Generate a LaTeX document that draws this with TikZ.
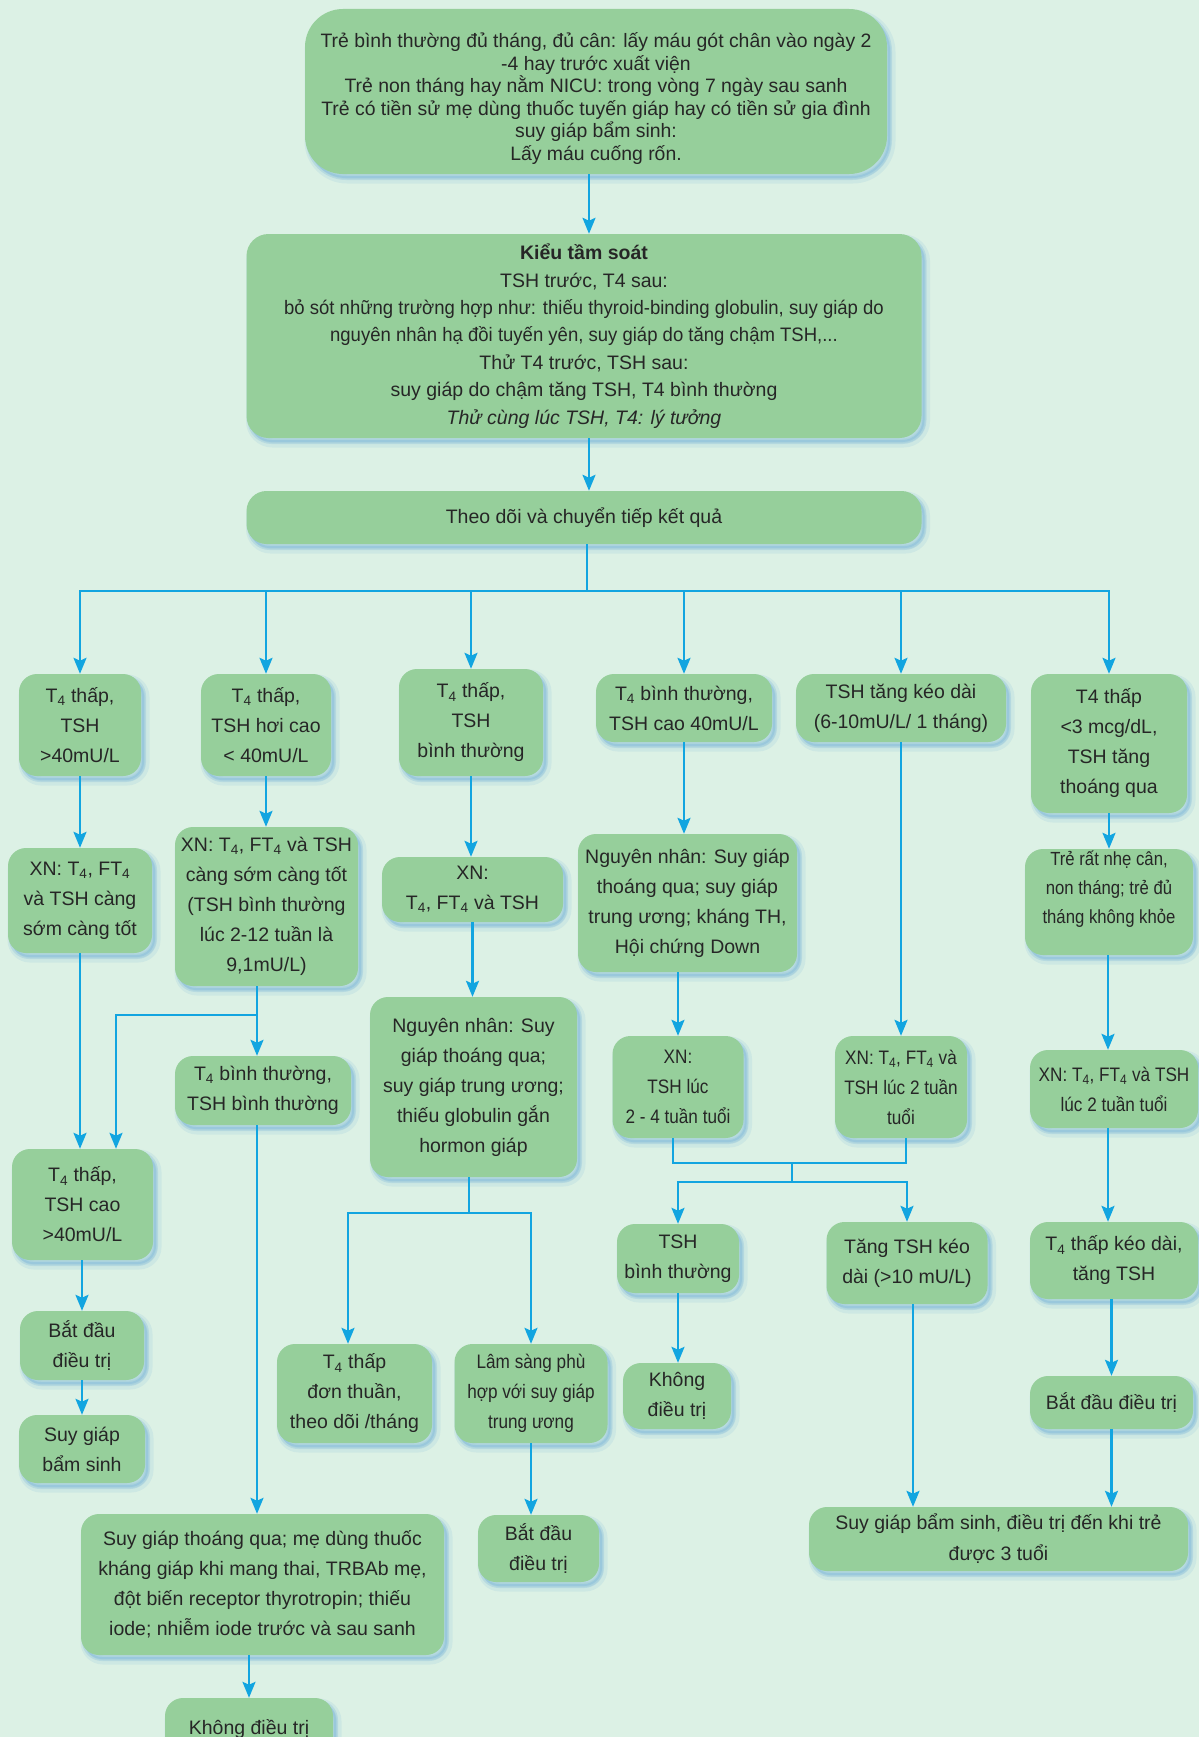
\documentclass[tikz,border=0pt]{standalone}
\usepackage{fontspec}
\setmainfont{Liberation Sans}
\newfontfamily\condf{Liberation Sans}[FakeStretch=0.88]
\newfontfamily\semicondf{Liberation Sans}[FakeStretch=0.95]
\usetikzlibrary{arrows.meta}
\definecolor{bgc}{HTML}{DCF1E5}
\definecolor{boxg}{HTML}{96CF9B}
\definecolor{arrc}{HTML}{12A5E0}
\definecolor{shc}{HTML}{4F9BD3}
\definecolor{txt}{HTML}{262626}
\tikzset{
 shad/.style={preaction={fill=shc,opacity=0.10,draw=shc,line width=9pt,transform canvas={shift={(4pt,-5pt)}}},
              preaction={fill=shc,opacity=0.18,draw=shc,line width=4pt,transform canvas={shift={(3pt,-4pt)}}}},
 box/.style={shad,fill=boxg,rounded corners=18pt,align=center,inner sep=0pt,text=txt,font=\fontsize{19.5}{30}\selectfont},
 arr/.style={draw=arrc,line width=2.5pt,-{Stealth[length=16pt,width=13pt,inset=3pt]}},
 ln/.style={draw=arrc,line width=2.5pt},
}
\newcommand{\Tf}{T\textsubscript{4}}
\newcommand{\FTf}{FT\textsubscript{4}}
\begin{document}
\begin{tikzpicture}[x=1pt,y=-1pt]
\useasboundingbox (0,0) rectangle (1199,1737);
\clip (0,0) rectangle (1199,1737);
\fill[bgc] (0,0) rectangle (1199,1737);

% top
\node[box, rounded corners=38pt, minimum width=582pt, minimum height=165pt, font=\fontsize{19.4}{22.5}\selectfont] (top) at (596,91.5)
 {\rule{0pt}{29pt}Trẻ bình thường đủ tháng, đủ cân: lấy máu gót chân vào ngày 2\\ -4 hay trước xuất viện\\ Trẻ non tháng hay nằm NICU: trong vòng 7 ngày sau sanh\\ Trẻ có tiền sử mẹ dùng thuốc tuyến giáp hay có tiền sử gia đình\\ suy giáp bẩm sinh:\\ Lấy máu cuống rốn.};
\node[box, rounded corners=22pt, minimum width=675pt, minimum height=204pt, font=\fontsize{19.5}{27.4}\selectfont] (kieu) at (584,336)
 {\textbf{Kiểu tầm soát}\\ TSH trước, T4 sau:\\ {\semicondf bỏ sót những trường hợp như: thiếu thyroid-binding globulin, suy giáp do}\\ {\semicondf nguyên nhân hạ đồi tuyến yên, suy giáp do tăng chậm TSH,...}\\ Thử T4 trước, TSH sau:\\ suy giáp do chậm tăng TSH, T4 bình thường\\ \textit{Thử cùng lúc TSH, T4: lý tưởng}};
\node[box, rounded corners=20pt, minimum width=675pt, minimum height=53pt] (theo) at (584,517.5) {Theo dõi và chuyển tiếp kết quả};

% row 1
\node[box, minimum width=122pt, minimum height=102pt] (a) at (80,725) {\Tf{} thấp,\\ TSH\\ >40mU/L};
\node[box, minimum width=130pt, minimum height=102pt] (b) at (266,725) {\Tf{} thấp,\\ TSH hơi cao\\ < 40mU/L};
\node[box, minimum width=144pt, minimum height=107pt] (c) at (471,722.5) {\Tf{} thấp,\\ TSH\\ bình thường};
\node[box, minimum width=176pt, minimum height=68pt] (d) at (684,708) {\Tf{} bình thường,\\ TSH cao 40mU/L};
\node[box, minimum width=210pt, minimum height=68pt] (e) at (901,708) {TSH tăng kéo dài\\ (6-10mU/L/ 1 tháng)};
\node[box, minimum width=156pt, minimum height=139pt] (f) at (1109,743.5) {T4 thấp\\ <3 mcg/dL,\\ TSH tăng\\ thoáng qua};

% row 2
\node[box, minimum width=144pt, minimum height=105pt] (a2) at (80,900.5) {XN: \Tf, \FTf\\ và TSH càng\\ sớm càng tốt};
\node[box, minimum width=183pt, minimum height=159pt] (b2) at (266.5,906.5) {XN: \Tf, \FTf{} và TSH\\ càng sớm càng tốt\\ (TSH bình thường\\ lúc 2-12 tuần là\\ 9,1mU/L)};
\node[box, minimum width=181pt, minimum height=65pt] (c2) at (472.5,889.5) {XN:\\ \Tf, \FTf{} và TSH};
\node[box, minimum width=219pt, minimum height=138pt] (d2) at (687.5,903) {Nguyên nhân: Suy giáp\\ thoáng qua; suy giáp\\ trung ương; kháng TH,\\ Hội chứng Down};
\node[box, minimum width=168pt, minimum height=106pt, font=\condf\fontsize{19}{29}\selectfont] (f2) at (1109,902) {Trẻ rất nhẹ cân,\\ non tháng; trẻ đủ\\ tháng không khỏe\\ ~};

% row 3
\node[box, minimum width=207pt, minimum height=180pt] (c3) at (473.5,1087) {Nguyên nhân: Suy\\ giáp thoáng qua;\\ suy giáp trung ương;\\ thiếu globulin gắn\\ hormon giáp};
\node[box, minimum width=176pt, minimum height=69pt] (b3) at (263,1090.5) {\Tf{} bình thường,\\ TSH bình thường};
\node[box, minimum width=141pt, minimum height=111pt] (a3) at (82.5,1204.5) {\Tf{} thấp,\\ TSH cao\\ >40mU/L};
\node[box, minimum width=131pt, minimum height=102pt, font=\condf\fontsize{19.5}{30}\selectfont] (d3) at (678,1087) {XN:\\ TSH lúc\\ 2 - 4 tuần tuổi};
\node[box, minimum width=132pt, minimum height=102pt, font=\condf\fontsize{19.5}{30}\selectfont] (e3) at (901,1087) {XN: \Tf, \FTf{} và\\ TSH lúc 2 tuần\\ tuổi};
\node[box, minimum width=168pt, minimum height=78pt, font=\condf\fontsize{19.5}{30}\selectfont] (f3) at (1114,1089) {XN: \Tf, \FTf{} và TSH\\ lúc 2 tuần tuổi};

% row 4
\node[box, minimum width=124pt, minimum height=69pt] (a4) at (82,1345.5) {Bắt đầu\\ điều trị};
\node[box, minimum width=155pt, minimum height=99pt] (c4a) at (354.5,1393.5) {\Tf{} thấp\\ đơn thuần,\\ theo dõi /tháng};
\node[box, minimum width=153pt, minimum height=99pt, font=\condf\fontsize{19.5}{30}\selectfont] (c4b) at (531,1393.5) {Lâm sàng phù\\ hợp với suy giáp\\ trung ương};
\node[box, minimum width=122pt, minimum height=69pt] (d4) at (678,1258.5) {TSH\\ bình thường};
\node[box, minimum width=161pt, minimum height=82pt] (e4) at (907,1263) {Tăng TSH kéo\\ dài (>10 mU/L)};
\node[box, minimum width=168pt, minimum height=77pt] (f4) at (1114,1260.5) {\Tf{} thấp kéo dài,\\ tăng TSH};

% row 5
\node[box, minimum width=126pt, minimum height=68pt] (a5) at (82,1449) {Suy giáp\\ bẩm sinh};
\node[box, minimum width=108pt, minimum height=66pt] (d5) at (677,1396) {Không\\ điều trị};
\node[box, minimum width=163pt, minimum height=53pt] (f5) at (1111.5,1402.5) {Bắt đầu điều trị};
\node[box, minimum width=121pt, minimum height=67pt] (c5b) at (538.5,1548.5) {Bắt đầu\\ điều trị};
\node[box, minimum width=363pt, minimum height=141pt] (b5) at (262.5,1584.5) {Suy giáp thoáng qua; mẹ dùng thuốc\\ kháng giáp khi mang thai, TRBAb mẹ,\\ đột biến receptor thyrotropin; thiếu\\ iode; nhiễm iode trước và sau sanh};
\node[box, minimum width=168pt, minimum height=62pt] (b6) at (249,1729) {Không điều trị};
\node[box, minimum width=379pt, minimum height=64pt, font=\fontsize{19.5}{31}\selectfont] (fin) at (998.5,1539) {Suy giáp bẩm sinh, điều trị đến khi trẻ\\ được 3 tuổi};

% connectors
\coordinate (ax) at (589,0);
\draw[arr] (top.south -| ax) -- (kieu.north -| ax);
\draw[arr] (kieu.south -| ax) -- (theo.north -| ax);
\coordinate (bus) at (587,591);
\draw[ln] (theo.south -| bus) -- (bus);
\draw[arr] (bus) -| (a.north);
\draw[arr] (bus) -| (f.north);
\foreach \n in {b,c,d,e} \draw[arr] (\n.north |- bus) -- (\n.north);

\draw[arr] (a.south) -- (a.south |- a2.north);
\draw[arr] (b.south) -- (b.south |- b2.north);
\draw[arr] (c.south) -- (c.south |- c2.north);
\draw[arr] (d.south) -- (d.south |- d2.north);
\draw[arr] (f.south) -- (f.south |- f2.north);
\draw[arr] (e.south) -- (e.south |- e3.north);

\draw[arr] (a2.south) -- (a2.south |- a3.north);
\coordinate (j1) at (257,1015);
\coordinate (j1l) at (116,1015);
\draw[ln] (b2.south -| j1) -- (j1);
\draw[arr] (j1) -- (j1l) -- (j1l |- a3.north);
\draw[arr] (j1) -- (j1 |- b3.north);
\draw[arr] (b3.south -| j1) -- (b5.north -| j1);

\draw[arr] (c2.south) -- (c2.south |- c3.north);
\coordinate (j2) at (469,1213);
\coordinate (j2l) at (348,1213);
\coordinate (j2r) at (531,1213);
\draw[ln] (c3.south -| j2) -- (j2);
\draw[arr] (j2) -- (j2l) -- (j2l |- c4a.north);
\draw[arr] (j2) -- (j2r) -- (j2r |- c4b.north);

\draw[arr] (d3.north |- d2.south) -- (d3.north);
\coordinate (m1l) at (673,1163);
\coordinate (m1r) at (906,1163);
\coordinate (m1) at (792,1163);
\coordinate (m2) at (792,1182);
\draw[ln] (d3.south -| m1l) -- (m1l) -- (m1r) -- (e3.south -| m1r);
\draw[ln] (m1) -- (m2);
\draw[arr] (m2) -| (d4.north);
\draw[arr] (m2) -| (e4.north);

\coordinate (fx) at (1108,0);
\draw[arr] (f2.south -| fx) -- (f3.north -| fx);
\draw[arr] (f3.south -| fx) -- (f4.north -| fx);
\draw[arr] (f4.south -| f5.north) -- (f5.north);
\draw[arr] (f5.south) -- (f5.south |- fin.north);
\coordinate (ex) at (913,0);
\draw[arr] (e4.south -| ex) -- (fin.north -| ex);

\draw[arr] (a3.south -| a4.north) -- (a4.north);
\draw[arr] (a4.south) -- (a4.south |- a5.north);
\draw[arr] (d4.south) -- (d4.south |- d5.north);
\draw[arr] (c4b.south) -- (c4b.south |- c5b.north);
\draw[arr] (b6.north |- b5.south) -- (b6.north);
\end{tikzpicture}
\end{document}
